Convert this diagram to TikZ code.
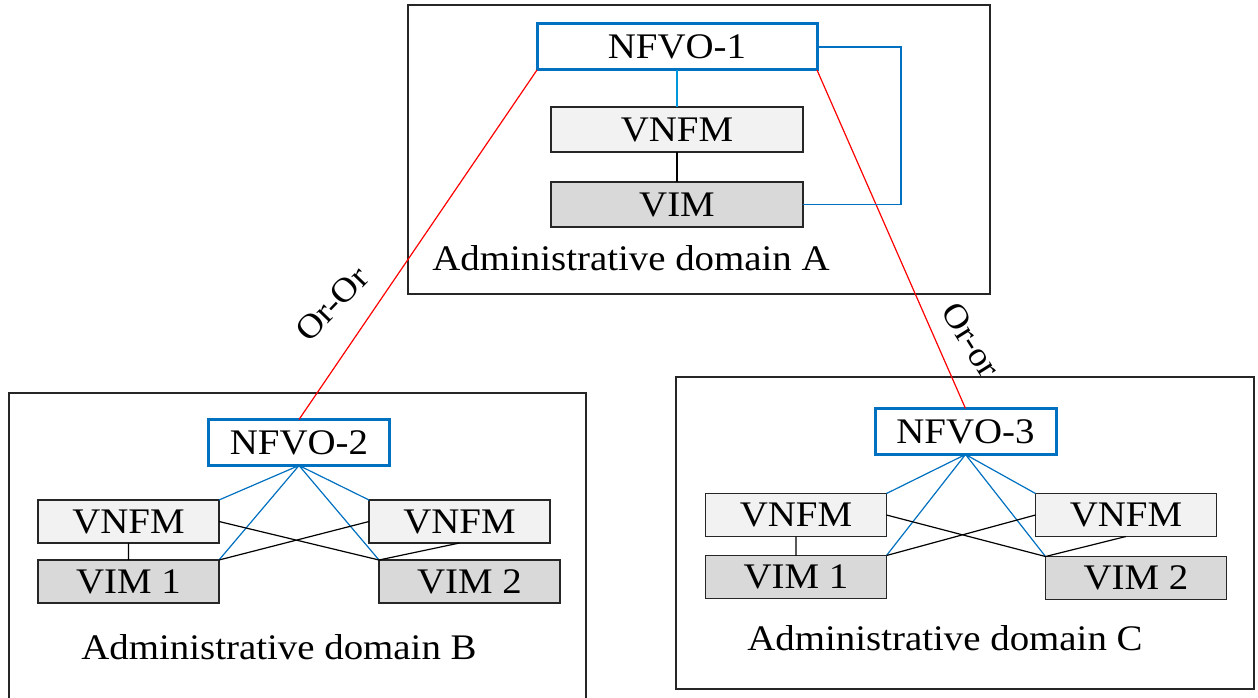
\documentclass[tikz,border=0pt]{standalone}
\usepackage{fontspec}
\setmainfont{Liberation Serif}[FakeStretch=1.08]
\usepackage{tikz}
\usetikzlibrary{positioning}

\definecolor{nfvoblue}{RGB}{0,112,192}
\definecolor{linkblue}{RGB}{0,150,220}
\definecolor{vnfmgray}{RGB}{242,242,242}
\definecolor{vimgray}{RGB}{217,217,217}

\begin{document}
\begin{tikzpicture}[x=1pt, y=-1pt,
	font=\fontsize{36}{40}\selectfont,
	every node/.style={inner sep=0pt, outer sep=0pt},
	admbox/.style={draw=black!85, line width=1.4pt},
	nfvo/.style={draw=nfvoblue, line width=3pt, fill=white,
		minimum height=46pt},
	vnfm/.style={draw=black!85, line width=1.4pt, fill=vnfmgray,
		minimum width=181pt, minimum height=43pt},
	vim/.style={draw=black!85, line width=1.4pt, fill=vimgray,
		minimum width=181pt, minimum height=43pt},
	bluelink/.style={draw=nfvoblue, line width=1.2pt},
	blacklink/.style={draw=black, line width=1.2pt},
	orlink/.style={draw=red, line width=1.2pt},
	orlabel/.style={font=\fontsize{34}{36}\selectfont}]
    \useasboundingbox (0,0) rectangle (1258,698);
    % The three administrative domains
		\node[admbox,
			minimum width=582pt,
			minimum height=289pt] (domA) at (699,149.5) {};
		\node[admbox,
			minimum width=577pt,
			minimum height=309pt] (domB) at (297.5,547.5) {};
		\node[admbox,
			minimum width=578pt,
			minimum height=312pt] (domC) at (965,533) {};

    % Domain A
		\node[nfvo,
			minimum width=280pt] (nfvoA) at (677,47) {NFVO-1};
		\node[vnfm,
			minimum width=252pt,
			minimum height=45pt] (vnfmA) at (677,129.5) {VNFM};
		\node[vim,
			below=30pt of vnfmA,
			minimum width=252pt,
			minimum height=45pt] (vimA) {VIM};
		\node (textA) at (631,258) {Administrative domain A};
		\coordinate (bendA) at (901,47);

    % Domain B
		\node[nfvo,
			minimum width=181pt] (nfvoB) at (299,442.5) {NFVO-2};
		\node[vnfm] (vnfmB1) at (128.5,521.5) {VNFM};
		\node[vim,
			below=17pt of vnfmB1] (vimB1) {VIM 1};
		\node[vnfm] (vnfmB2) at (459.5,521.5) {VNFM};
		\node[vim] (vimB2) at (469.5,581.5) {VIM 2};
		\node (textB) at (279,647) {Administrative domain B};

    % Domain C
		\node[nfvo,
			minimum width=181pt] (nfvoC) at (965.5,431.5) {NFVO-3};
		\node[vnfm] (vnfmC1) at (796,515) {VNFM};
		\node[vim,
			below=19pt of vnfmC1] (vimC1) {VIM 1};
		\node[vnfm] (vnfmC2) at (1126,515) {VNFM};
		\node[vim] (vimC2) at (1136,578) {VIM 2};
		\node (textC) at (945,638) {Administrative domain C};

    % Or-Or links
		\draw[orlink] (nfvoA.south west) -- (nfvoB.north);
		\draw[orlink] (nfvoA.south east) -- (nfvoC.north);
		\node[orlabel, rotate=46] (orB) at (332,304) {Or-Or};
		\node[orlabel, rotate=-58] (orC) at (971,340) {Or-or};

    % Links inside the domains
		\draw[draw=linkblue, line width=1.2pt] (nfvoA.south) -- (vnfmA.north);
		\draw[blacklink] (vnfmA.south) -- (vimA.north);
		\draw[bluelink] (nfvoA.east) -- (bendA) |- (vimA.east);

		\draw[bluelink]
			(nfvoB.south) -- (vnfmB1.north east)
			(nfvoB.south) -- (vimB1.north east)
			(nfvoB.south) -- (vnfmB2.north west)
			(nfvoB.south) -- (vimB2.north west);
		\draw[blacklink]
			(vnfmB1.south) -- (vimB1.north)
			(vnfmB1.east) -- (vimB2.north west)
			(vnfmB2.west) -- (vimB1.north east)
			(vnfmB2.south) -- (vimB2.north west);

		\draw[bluelink]
			(nfvoC.south) -- (vnfmC1.north east)
			(nfvoC.south) -- (vimC1.north east)
			(nfvoC.south) -- (vnfmC2.north west)
			(nfvoC.south) -- (vimC2.north west);
		\draw[blacklink]
			(vnfmC1.south) -- (vimC1.north)
			(vnfmC1.east) -- (vimC2.north west)
			(vnfmC2.west) -- (vimC1.north east)
			(vnfmC2.south) -- (vimC2.north west);
\end{tikzpicture}
\end{document}
